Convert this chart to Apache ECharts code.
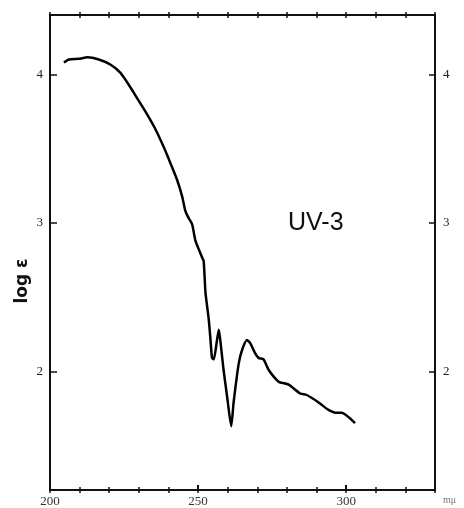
<!DOCTYPE html>
<html>
<head>
<meta charset="utf-8">
<script src="https://cdn.jsdelivr.net/npm/echarts@6/dist/echarts.min.js"></script>
<style>html,body{margin:0;padding:0;background:#fff;}#c{width:464px;height:508px;}</style>
</head>
<body>
<div id="c"></div>
<script>
// wavelength (mμ)
var wavelength = [204.7,206.4,209.8,212.6,216.5,220.5,223.8,226.6,229.4,232.8,235.6,238.4,240.7,242.9,244.6,245.7,246.6,248.0,249.1,251.3,251.9,252.5,253.6,254.2,254.7,255.3,256.4,257.0,257.5,258.6,259.8,261.2,262.0,263.7,264.8,266.5,267.6,269.3,270.4,272.1,273.8,277.2,280.6,284.5,286.7,290.7,294.0,296.8,298.5,303.0];
// log ε
var logEps = [4.08,4.10,4.105,4.115,4.10,4.065,4.01,3.93,3.84,3.73,3.63,3.51,3.40,3.29,3.18,3.08,3.04,2.99,2.88,2.77,2.74,2.53,2.35,2.21,2.09,2.08,2.21,2.28,2.21,2.01,1.83,1.63,1.79,2.05,2.14,2.21,2.19,2.12,2.09,2.08,2.01,1.93,1.91,1.85,1.84,1.79,1.74,1.72,1.72,1.65];
var xTickLabels = [200, 250, 300];
var xMajorTicks = [250, 300];
var yTickLabels = [2, 3, 4];
var xMin = 200, xMax = 330, xStep = 10;
var yMin = 1.2, yMax = 4.4;

var pts = wavelength.map(function (w, i) { return [w, logEps[i]]; });

var chart = echarts.init(document.getElementById('c'));
var serif = 'Liberation Serif';
function xa(pos, inside, opts) {
  var a = {
    type: 'value', position: pos, min: xMin, max: xMax, interval: xStep,
    axisLine: { show: true, lineStyle: { color: '#111', width: 2 } },
    axisTick: { show: true, inside: inside, length: 3, lineStyle: { color: '#111', width: 1.5 } },
    axisLabel: { show: false },
    splitLine: { show: false }
  };
  return Object.assign(a, opts || {});
}
chart.setOption({
  animation: false,
  grid: { left: 50, right: 29, top: 15, bottom: 17, containLabel: false },
  xAxis: [
    xa('bottom', false, {
      axisLabel: {
        show: true, customValues: xTickLabels, margin: 5,
        fontFamily: serif, fontSize: 13, color: '#333'
      }
    }),
    xa('bottom', true),
    xa('bottom', true, { axisTick: { show: true, inside: true, length: 5, customValues: xMajorTicks, lineStyle: { color: '#111', width: 2 } } }),
    xa('top', true),
    xa('top', false)
  ],
  yAxis: [
    {
      type: 'value', position: 'left', min: yMin, max: yMax,
      axisLine: { show: true, lineStyle: { color: '#111', width: 2 } },
      axisTick: { show: true, inside: true, length: 7, customValues: yTickLabels, lineStyle: { color: '#111', width: 1.5 } },
      axisLabel: { show: true, customValues: yTickLabels, margin: 7, fontFamily: serif, fontSize: 13, color: '#222' },
      splitLine: { show: false }
    },
    {
      type: 'value', position: 'right', min: yMin, max: yMax,
      axisLine: { show: true, lineStyle: { color: '#111', width: 2 } },
      axisTick: { show: true, inside: true, length: 6, customValues: yTickLabels, lineStyle: { color: '#111', width: 1.5 } },
      axisLabel: { show: true, customValues: yTickLabels, margin: 8, fontFamily: serif, fontSize: 13, color: '#222' },
      splitLine: { show: false }
    }
  ],
  series: [{
    type: 'line', xAxisIndex: 0, yAxisIndex: 0,
    data: pts, showSymbol: false, smooth: 0.2,
    lineStyle: { color: '#000', width: 2.5 }
  }],
  graphic: [
    { type: 'text', left: 288, top: 211, style: { text: 'UV-3', font: '25px "Liberation Sans"', fill: '#111' } },
    { type: 'text', x: 23, y: 281, rotation: Math.PI / 2,
      style: { text: 'log ε', font: 'bold 17px "DejaVu Sans"', fill: '#111', align: 'center', verticalAlign: 'middle' } },
    { type: 'text', left: 443, top: 495, style: { text: 'mμ', font: '10px "Liberation Serif"', fill: '#777' } }
  ]
});
</script>
</body>
</html>
